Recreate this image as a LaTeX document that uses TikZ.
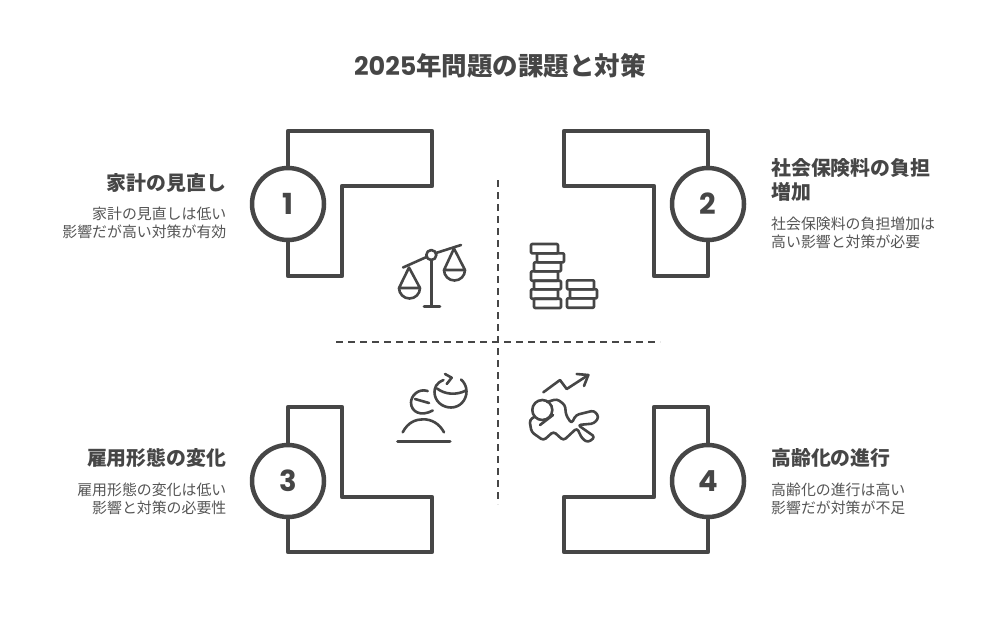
\documentclass[tikz,border=0pt]{standalone}
\usepackage{fontspec}
\setmainfont{Noto Sans CJK JP}
\newfontfamily\digitfont{Poppins}
\usepackage{tikz}
\usetikzlibrary{
  positioning,
}
\definecolor{inkdark}{RGB}{70, 70, 70}
\definecolor{inktext}{RGB}{85, 85, 85}
\tikzstyle{frame} = [
  line width=4.5pt,
  inkdark,
  line join=round,
]
\tikzstyle{numcirc} = [
  draw=inkdark,
  circle,
  line width=4.5pt,
  fill=white,
  minimum size=72pt,
  inner sep=0pt,
  text=inkdark,
  font=\digitfont\bfseries\fontsize{29}{29}\selectfont,
]
\tikzstyle{heading} = [
  text=inkdark,
  inner sep=0pt,
  font=\bfseries\fontsize{19.9}{24}\selectfont,
]
\tikzstyle{desc} = [
  text=inktext,
  inner sep=0pt,
  font=\fontsize{14.9}{18}\selectfont,
]
\tikzstyle{axis} = [
  line width=2.4pt,
  inkdark,
  dash pattern=on 7pt off 5pt,
]
\tikzstyle{icon} = [
  line width=2.6pt,
  inkdark,
  line join=round,
  line cap=round,
]
\begin{document}
\begin{tikzpicture}[x=1pt,y=-1pt]
      \useasboundingbox (0,0) rectangle (1000,625);
      \node[text=inkdark,inner sep=0pt,font=\bfseries\fontsize{25.5}{30}\selectfont] (title) at (500,66) {{\digitfont 2025}年問題の課題と対策};

      % frames
      \draw[frame] (288,131) -- (432,131) -- (432,186) -- (342,186) -- (342,276) -- (288,276) -- cycle;
      \draw[frame] (708,131) -- (564,131) -- (564,186) -- (654,186) -- (654,276) -- (708,276) -- cycle;
      \draw[frame] (288,407) -- (342,407) -- (342,497) -- (432,497) -- (432,552) -- (288,552) -- cycle;
      \draw[frame] (708,407) -- (654,407) -- (654,497) -- (564,497) -- (564,552) -- (708,552) -- cycle;

      \node[numcirc] (c1) at (288,204) {1};
      \node[numcirc] (c2) at (708,204) {2};
      \node[numcirc] (c3) at (288,481) {3};
      \node[numcirc] (c4) at (708,481) {4};

      % labels
      \node[heading,anchor=east] (h1) at (226.5,183) {家計の見直し};
      \node[desc,anchor=north east,align=right] (d1) at (226.5,207) {家計の見直しは低い\\影響だが高い対策が有効};
      \node[heading,anchor=north west,align=left] (h2) at (771,158) {社会保険料の負担\\増加};
      \node[desc,anchor=north west,align=left] (d2) at (771,216.5) {社会保険料の負担増加は\\高い影響と対策が必要};
      \node[heading,anchor=east] (h3) at (226.5,458) {雇用形態の変化};
      \node[desc,anchor=north east,align=right] (d3) at (226.5,482.5) {雇用形態の変化は低い\\影響と対策の必要性};
      \node[heading,anchor=west] (h4) at (771,458) {高齢化の進行};
      \node[desc,anchor=north west,align=left] (d4) at (771,482.5) {高齢化の進行は高い\\影響だが対策が不足};

      % axes
      \coordinate (vtop) at (498,180);
      \coordinate (vbot) at (498,504);
      \coordinate (hleft) at (336,342);
      \coordinate (hright) at (660,342);
      \draw[axis] (vtop) -- (vbot);
      \draw[axis] (hleft) -- (hright);

      % scales
      \draw[icon] (403,267.5) -- (426.5,257);
      \draw[icon] (436,253) -- (461,245);
      \draw[icon] (431.3,255) circle (5);
      \draw[icon] (431.5,260) -- (431.5,306);
      \draw[icon] (424,306.3) -- (440,306.3);
      \draw[icon] (409,267.5) -- (399,288) -- (420,288) -- cycle;
      \draw[icon] (399,288) arc (180:0:10.5);
      \draw[icon] (454,248.5) -- (444,270) -- (465,270) -- cycle;
      \draw[icon] (444,270) arc (180:0:10.5);

      % coins
      \foreach \xa/\ya/\xb/\yb in {531/244/558/253.3, 537/253.3/564/262.3, 534/262.3/561/271.3, 531/271.3/558/280.7, 534/280.7/561/289.3, 531/289.3/558/298.7, 534/298.7/561/308, 567/280.3/594/289.3, 570/289.3/597/298.3, 567/298.3/594/307.7}
        \draw[icon,rounded corners=1pt] (\xa,\ya) rectangle (\xb,\yb);

      % people and charts
      \draw[icon,line width=3pt] (397.5,441.3) -- (450,441.3);
      \draw[icon] (402.7,432.3) .. controls (408,422) and (416,419.3) .. (423.3,419.3) .. controls (431,419.3) and (439,423) .. (444,432.3);
      \draw[icon] (427.7,391) .. controls (418,388) and (411,396) .. (411,402.5) .. controls (411,412) and (421,417) .. (432.7,410.5);
      \draw[icon] (415,399) -- (429,403);
      \draw[icon] (443.5,380) .. controls (436,383) and (434.5,388) .. (434.5,392) .. controls (434.5,401) and (442,407.5) .. (451,407.5) .. controls (460,407.5) and (466.5,400) .. (466.5,391.5) .. controls (466.5,386) and (464,382) .. (461,379.5);
      \draw[icon] (437,388.5) .. controls (445,394.5) and (456,395.5) .. (466,390.5);
      \draw[icon] (445,374) -- (451.7,377.7) -- (446.7,384);

      % person and trend
      \draw[icon] (543.3,392.3) -- (560,380) -- (566.7,389) -- (588.3,375);
      \draw[icon] (576.7,374) -- (588.3,375) -- (584,386);
      \draw[icon] (542.3,410) circle (10);
      \draw[icon,rounded corners=3pt] (547,402) -- (557,399) -- (565,405) -- (566,415) -- (571.5,423.5) -- (576,415) -- (594,410.5) -- (599,417) -- (594,423.5) -- (578,425) -- (595,437) -- (588,442.5) -- (582,438.5) -- (577,428) -- (563.5,440.5) -- (553.5,431.5) -- (543.5,440.5) -- (531.5,432) -- (529.5,420) -- (535,416.5);
      \draw[icon] (540,425) -- (553,415);
    \end{tikzpicture}
\end{document}
